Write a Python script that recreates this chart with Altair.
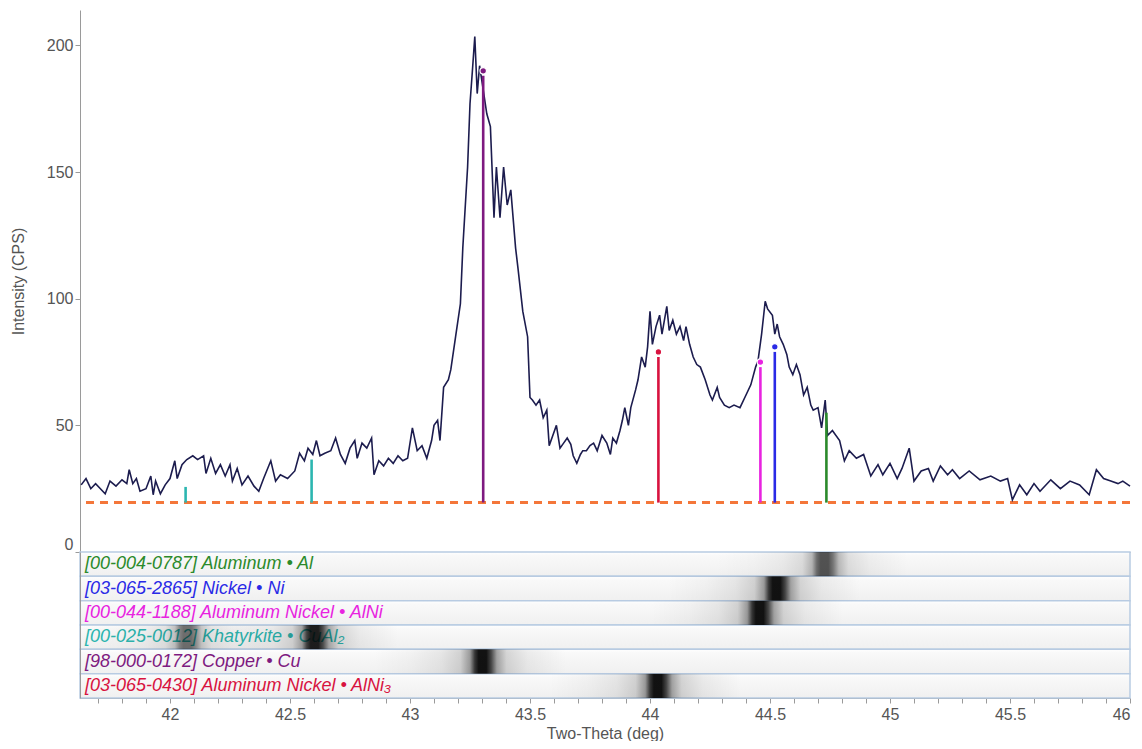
import altair as alt
import pandas as pd

# ---------------- data ----------------
TWO_THETA = [
    41.63, 41.65, 41.67, 41.69, 41.71, 41.73, 41.75, 41.775, 41.80, 41.82,
    41.83, 41.845, 41.86, 41.875, 41.90, 41.92, 41.93, 41.94, 41.96, 41.98,
    42.00, 42.02, 42.03, 42.05, 42.07, 42.095, 42.115, 42.14, 42.15, 42.17,
    42.19, 42.21, 42.23, 42.25, 42.26, 42.28, 42.30, 42.325, 42.35, 42.37,
    42.39, 42.42, 42.44, 42.46, 42.49, 42.52, 42.54, 42.56, 42.575, 42.595,
    42.61, 42.625, 42.645, 42.67, 42.69, 42.71, 42.73, 42.75, 42.77, 42.78,
    42.80, 42.82, 42.84, 42.85, 42.87, 42.89, 42.91, 42.93, 42.95, 42.97,
    42.99, 43.01, 43.03, 43.05, 43.07, 43.09, 43.10, 43.115, 43.125, 43.14,
    43.16, 43.17, 43.19, 43.21, 43.22, 43.24, 43.25, 43.26, 43.27, 43.28,
    43.29, 43.32, 43.335, 43.35, 43.36, 43.375, 43.39, 43.405, 43.42, 43.44,
    43.45, 43.47, 43.49, 43.50, 43.51, 43.525, 43.54, 43.555, 43.57, 43.58,
    43.595, 43.61, 43.625, 43.64, 43.655, 43.67, 43.68, 43.695, 43.71, 43.72,
    43.735, 43.75, 43.765, 43.78, 43.80, 43.82, 43.835, 43.845, 43.86, 43.875,
    43.885, 43.895, 43.91, 43.92, 43.94, 43.95, 43.965, 43.98, 43.99, 44.00,
    44.01, 44.025, 44.04, 44.05, 44.07, 44.08, 44.095, 44.11, 44.125, 44.14,
    44.15, 44.165, 44.18, 44.195, 44.21, 44.23, 44.25, 44.26, 44.28, 44.29,
    44.31, 44.33, 44.35, 44.375, 44.40, 44.42, 44.44, 44.45, 44.465, 44.48,
    44.49, 44.51, 44.52, 44.53, 44.54, 44.555, 44.57, 44.58, 44.595, 44.61,
    44.625, 44.64, 44.655, 44.67, 44.68, 44.70, 44.715, 44.73, 44.74, 44.76,
    44.79, 44.81, 44.83, 44.86, 44.89, 44.92, 44.95, 44.97, 45.00, 45.03,
    45.05, 45.08, 45.10, 45.13, 45.16, 45.18, 45.21, 45.24, 45.26, 45.29,
    45.33, 45.375, 45.42, 45.46, 45.49, 45.51, 45.54, 45.57, 45.60, 45.625,
    45.67, 45.71, 45.75, 45.79, 45.83, 45.86, 45.89, 45.92, 45.95, 45.97,
    46.00,
]
INTENSITY = [
    26.5, 29, 25, 27, 25, 23, 28, 26, 28.5, 27,
    32.5, 27, 29, 24, 25, 30, 22.6, 28, 23, 26.5,
    29, 36, 29, 34.5, 36.5, 38, 36.5, 38, 31, 37,
    31, 34.5, 30, 34.5, 28, 33, 26.5, 30, 26, 24,
    29, 36, 28, 30.5, 29, 32, 39, 36, 41, 38.5,
    44, 38, 39, 40, 45, 38.5, 35, 41, 44, 37,
    43, 41, 45, 30.5, 36, 34, 37, 35, 38, 36,
    37, 49, 40, 42, 37, 44, 50, 52, 44, 65,
    68, 72, 85, 98, 120, 152, 177, 190, 203.5, 181,
    192, 173, 168, 132, 152, 132, 152, 137, 143, 120,
    112, 95, 85, 61, 60, 58, 60, 53, 56, 42,
    46, 50, 41, 43, 45, 42.5, 38, 35, 38.5, 40,
    40, 42, 43, 40, 46, 43, 38.5, 45, 43, 48,
    52, 57, 50, 57, 64, 68, 77, 73, 81, 95,
    82, 89, 93.5, 86, 97, 87.5, 91.5, 86, 89, 83.5,
    89, 82, 77, 74, 73, 68, 62, 60, 65, 61,
    58, 57, 58, 57, 62, 66, 73, 75.5, 86, 99,
    96, 93.5, 86, 90, 85, 82, 78, 73, 70, 74,
    70, 62, 65, 58, 56, 57, 49, 60, 46, 48,
    44, 36, 40, 37, 38.5, 30, 34.5, 30.5, 35, 29,
    33, 41, 28, 32, 33, 28, 34, 30.5, 32.5, 29,
    32, 28.5, 30, 28, 29, 20.6, 26.5, 22.6, 27, 24,
    28.5, 25, 28, 26.5, 22.6, 32.5, 29, 28, 27, 28,
    26,
]

PHASES = [
    "[00-004-0787] Aluminum \u2022 Al",
    "[03-065-2865] Nickel \u2022 Ni",
    "[00-044-1188] Aluminum Nickel \u2022 AlNi",
    "[00-025-0012] Khatyrkite \u2022 CuAl\u2082",
    "[98-000-0172] Copper \u2022 Cu",
    "[03-065-0430] Aluminum Nickel \u2022 AlNi\u2083",
]
PHASE_COLORS = ["#2b8a2b", "#2a2ae6", "#e823e0", "#2cb6b0", "#7e1a80", "#d8133f"]

# reference sticks (phase index, position, top intensity)
STICK_PHASE = [0, 1, 2, 3, 3, 4, 5]
STICK_POS = [44.735, 44.52, 44.46, 42.065, 42.59, 43.305, 44.035]
STICK_TOP = [55, 79, 73, 25.7, 36.5, 188, 77]

# marker dots on the strongest sticks
DOT_PHASE = [1, 2, 4, 5]
DOT_POS = [44.52, 44.46, 43.305, 44.035]
DOT_VAL = [81, 75, 190, 79]

BASELINE = 19.5

# phase-band intensity blobs (phase index, centre, strength)
BLOB_PHASE = [0, 1, 2, 3, 3, 4, 5]
BLOB_POS = [44.725, 44.525, 44.455, 42.07, 42.6, 43.3, 44.03]
BLOB_STRENGTH = [0.72, 1.0, 1.0, 0.6, 0.95, 1.0, 1.0]

X_TICKS = [41.7, 41.8, 41.9, 42.0, 42.1, 42.2, 42.3, 42.4, 42.5, 42.6, 42.7,
           42.8, 42.9, 43.0, 43.1, 43.2, 43.3, 43.4, 43.5, 43.6, 43.7, 43.8,
           43.9, 44.0, 44.1, 44.2, 44.3, 44.4, 44.5, 44.6, 44.7, 44.8, 44.9,
           45.0, 45.1, 45.2, 45.3, 45.4, 45.5, 45.6, 45.7, 45.8, 45.9, 46.0]
Y_TICKS = [0, 50, 100, 150, 200]

X_DOMAIN = [41.625, 46.0]
Y_DOMAIN = [0, 214]

W = 1050
H_TOP = 542
H_BOT = 146

FONT = "Liberation Sans"
GREY = "#555555"
AXIS_LINE = "#9a9a9a"

# ---------------- tables ----------------
pattern = pd.DataFrame({"theta": TWO_THETA, "intensity": INTENSITY})
sticks = pd.DataFrame({
    "phase": [PHASES[i] for i in STICK_PHASE],
    "theta": STICK_POS,
    "top": STICK_TOP,
})
dots = pd.DataFrame({
    "phase": [PHASES[i] for i in DOT_PHASE],
    "theta": DOT_POS,
    "val": DOT_VAL,
})
rows = pd.DataFrame({"phase": PHASES})
blobs = pd.DataFrame({
    "phase": [PHASES[i] for i in BLOB_PHASE],
    "theta": BLOB_POS,
    "strength": BLOB_STRENGTH,
})

color_scale = alt.Scale(domain=PHASES, range=PHASE_COLORS)
x_scale = alt.Scale(domain=X_DOMAIN, nice=False, zero=False)

# ---------------- top panel ----------------
x_top = alt.X("theta:Q", scale=x_scale,
              axis=alt.Axis(labels=False, ticks=False, title=None, grid=False,
                            domainColor=AXIS_LINE))
y_axis = alt.Axis(values=Y_TICKS, title="Intensity (CPS)", grid=False,
                  tickSize=5, labelPadding=2, titlePadding=20, labelFlush=True,
                  labelFontSize=16, titleFontSize=16, titleFontWeight="normal",
                  labelColor=GREY, titleColor=GREY, tickColor=AXIS_LINE,
                  domainColor=AXIS_LINE, labelFont=FONT, titleFont=FONT)
y_scale = alt.Scale(domain=Y_DOMAIN, nice=False, zero=False)

base_rule = alt.Chart(pattern).mark_rule(
    color="#f4773a", strokeWidth=2, strokeDash=[8, 6]
).encode(y=alt.datum(BASELINE, scale=y_scale))

line = alt.Chart(pattern).mark_line(
    color="#1c1c4e", strokeWidth=1.6, interpolate="linear"
).encode(
    x=x_top,
    y=alt.Y("intensity:Q", scale=y_scale, axis=y_axis),
)

stick_marks = alt.Chart(sticks).mark_rule(strokeWidth=2.6).encode(
    x=alt.X("theta:Q", scale=x_scale),
    y=alt.Y("top:Q", scale=y_scale),
    y2=alt.datum(BASELINE),
    color=alt.Color("phase:N", scale=color_scale, legend=None),
)

dot_marks = alt.Chart(dots).mark_point(
    filled=True, size=42, opacity=1, stroke="white", strokeWidth=1.2
).encode(
    x=alt.X("theta:Q", scale=x_scale),
    y=alt.Y("val:Q", scale=y_scale),
    fill=alt.Fill("phase:N", scale=color_scale, legend=None),
)

top = alt.layer(base_rule, line, stick_marks, dot_marks).properties(
    width=W, height=H_TOP
)

# ---------------- bottom panel (phase bands) ----------------
y_band = alt.Y("phase:N", sort=PHASES,
               scale=alt.Scale(domain=PHASES, paddingInner=0, paddingOuter=0),
               axis=alt.Axis(labels=False, ticks=False, title=None,
                             domainColor=AXIS_LINE, grid=False))

row_fill = {
    "gradient": "linear", "x1": 0, "x2": 0, "y1": 0, "y2": 1,
    "stops": [
        {"offset": 0, "color": "#ffffff"},
        {"offset": 0.15, "color": "#f9f9f9"},
        {"offset": 1, "color": "#f0f0f0"},
    ],
}
row_rects = alt.Chart(rows).mark_rect(
    fill=row_fill, stroke="#b8cbe2", strokeWidth=1.5
).encode(y=y_band)

row_text = alt.Chart(rows).mark_text(
    align="left", baseline="middle", fontStyle="italic", fontSize=18, font=FONT
).encode(
    x=alt.value(5),
    y=y_band,
    text="phase:N",
    color=alt.Color("phase:N", scale=color_scale, legend=None),
)

blob_fill = {
    "gradient": "linear", "x1": 0, "x2": 1, "y1": 0, "y2": 0,
    "stops": [
        {"offset": 0.00, "color": "rgba(0,0,0,0)"},
        {"offset": 0.20, "color": "rgba(0,0,0,0.03)"},
        {"offset": 0.35, "color": "rgba(0,0,0,0.08)"},
        {"offset": 0.45, "color": "rgba(0,0,0,0.16)"},
        {"offset": 0.50, "color": "rgba(0,0,0,0.38)"},
        {"offset": 0.525, "color": "rgba(0,0,0,0.78)"},
        {"offset": 0.545, "color": "rgba(0,0,0,0.93)"},
        {"offset": 0.585, "color": "rgba(0,0,0,0.93)"},
        {"offset": 0.61, "color": "rgba(0,0,0,0.72)"},
        {"offset": 0.64, "color": "rgba(0,0,0,0.35)"},
        {"offset": 0.69, "color": "rgba(0,0,0,0.15)"},
        {"offset": 0.80, "color": "rgba(0,0,0,0.06)"},
        {"offset": 1.00, "color": "rgba(0,0,0,0)"},
    ],
}
blob_marks = alt.Chart(blobs).transform_calculate(
    left="datum.theta - 0.45", right="datum.theta + 0.35"
).mark_rect(fill=blob_fill, clip=True).encode(
    x=alt.X("left:Q", scale=x_scale,
            axis=alt.Axis(values=X_TICKS, title="Two-Theta (deg)", grid=False,
                          labelExpr="abs(datum.value*2 - round(datum.value*2)) < 0.001 ? format(datum.value, '~g') : ''",
                          labelOverlap=False, labelFlush=True,
                          tickSize=5, labelPadding=3, titlePadding=3,
                          labelFontSize=16, titleFontSize=16, titleFontWeight="normal",
                          labelColor=GREY, titleColor=GREY, tickColor=AXIS_LINE,
                          domainColor=AXIS_LINE, labelFont=FONT, titleFont=FONT)),
    x2="right:Q",
    y=y_band,
    opacity=alt.Opacity("strength:Q", scale=None, legend=None),
)

bottom = alt.layer(row_rects, row_text, blob_marks).properties(
    width=W, height=H_BOT
)

chart = alt.vconcat(top, bottom, spacing=0, bounds="flush").resolve_scale(
    color="shared", fill="shared"
).properties(
    padding={"left": 2, "top": 2, "right": 0, "bottom": 0}
).configure(font=FONT).configure_view(stroke=None)

chart.save("out.html", embed_options={"renderer": "svg", "actions": False})
